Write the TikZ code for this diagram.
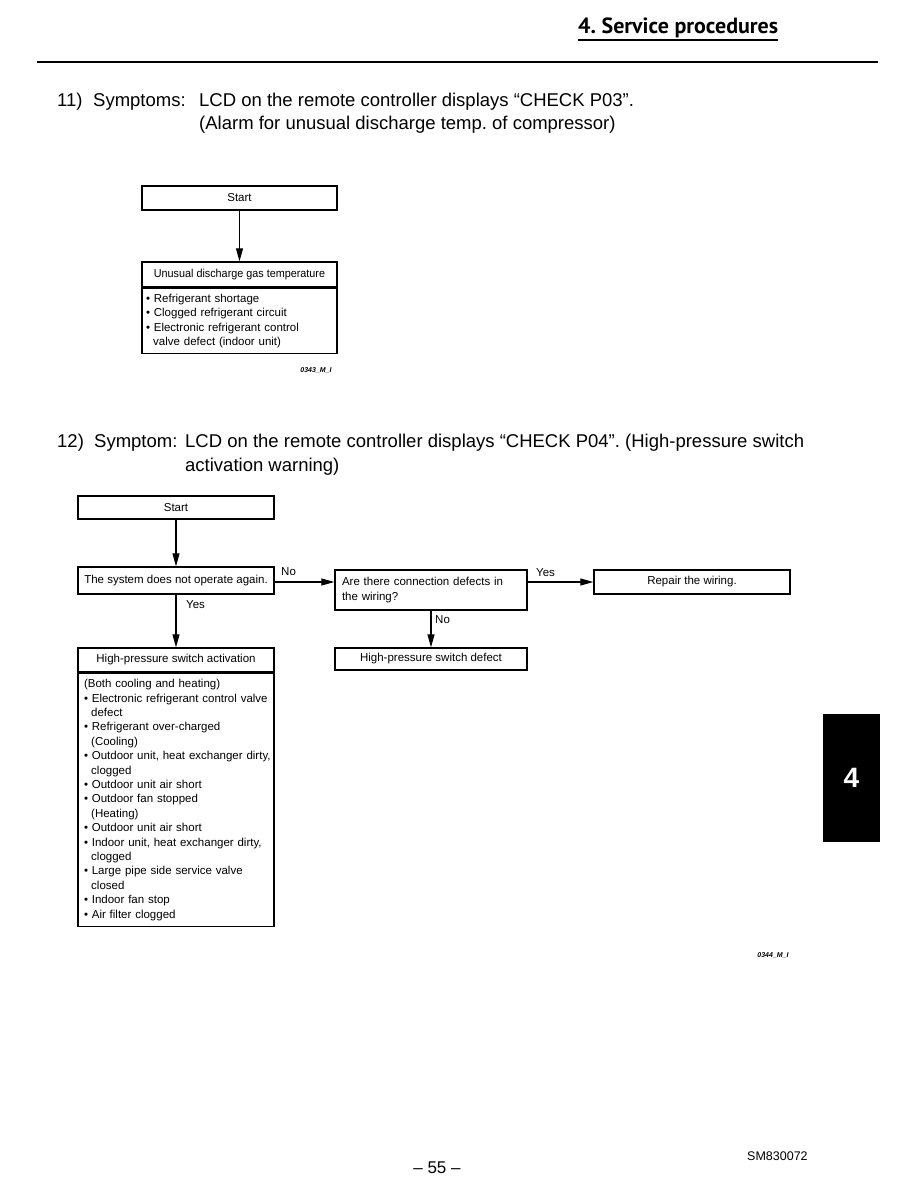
\documentclass[tikz,border=0pt]{standalone}
\usepackage{fontspec}
\usepackage{graphicx}
\setmainfont{Liberation Sans}
\newfontfamily\headfont{PT Sans}
\usetikzlibrary{arrows.meta}
\newcommand{\fsz}[2]{\fontsize{#1}{#2}\selectfont}
\newcommand{\ind}{\hspace*{7.2pt}}
\newcommand{\li}[1]{\mbox{#1}}
\frenchspacing
\begin{document}
\frenchspacing
\begin{tikzpicture}[x=1pt,y=-1pt,
  box/.style={draw, line width=1.4pt, inner sep=0pt, font=\fsz{11.5}{14.4}},
  listbox/.style={draw, line width=1.4pt, inner ysep=0pt, align=left, font=\fsz{11.5}{14.4}},
  arr/.style={line width=1.1pt, -{Triangle[length=13pt,width=7pt]}},
  lbl/.style={font=\fsz{11.5}{14}, inner sep=0pt},
  title/.style={font=\fsz{18.5}{22}, inner sep=0pt, anchor=base west},
  code/.style={font=\bfseries\itshape\fsz{7}{8}, inner sep=0pt}]
\useasboundingbox (0,0) rectangle (918,1188);

% header
\node[font=\headfont\bfseries\fsz{22}{24}, anchor=base west, inner sep=0pt] (hdr) at (578,34) {4. Service procedures};
\draw[line width=1.4pt] ([yshift=-6pt]hdr.base west) -- ([yshift=-6pt]hdr.base east);
\coordinate (rl) at (37,62);
\coordinate (rr) at (878,62);
\draw[line width=1.4pt] (rl) -- (rr);

% title 1
\node[title] (t1n) at (57,107) {11)};
\node[title] (t1s) at (93,107) {Symptoms:};
\node[title] (t1a) at (199,107) {LCD on the remote controller displays “CHECK P03”.};
\node[title] (t1b) at (199,129) {(Alarm for unusual discharge temp. of compressor)};

% chart 1
\node[box, minimum width=195pt, minimum height=24pt] (s1) at (239.5,198) {Start};
\node[box, minimum width=195pt, minimum height=25pt] (h1) at (239.5,274.5) {\scalebox{0.94}[1]{Unusual discharge gas temperature}};
\node[listbox, anchor=north, minimum width=195pt, minimum height=65pt, text width=187pt, inner xsep=4pt] (b1) at (h1.south)
 {\li{• Refrigerant shortage}\\
  \li{• Clogged refrigerant circuit}\\
  \li{• Electronic refrigerant control}\\
  \li{\ind valve defect (indoor unit)}};
\draw[arr] (s1) -- (h1);
\node[code] (c1) at (316,370) {0343\_M\_I};

% title 2
\node[title] (t2n) at (57,447) {12)};
\node[title] (t2s) at (94,447) {Symptom:};
\node[title] (t2a) at (185,447) {LCD on the remote controller displays “CHECK P04”. (High-pressure switch};
\node[title] (t2b) at (185,471) {activation warning)};

% chart 2
\node[box, minimum width=196pt, minimum height=23pt] (s2) at (176,507.5) {Start};
\node[box, minimum width=196pt, minimum height=27pt] (q1) at (176,580.5) {The system does not operate again.};
\node[box, minimum width=192pt, minimum height=40pt, text width=178pt, inner xsep=7pt, align=left] (q2) at (431,590) {Are there connection defects in\\the wiring?};
\node[box, minimum width=196pt, minimum height=24pt] (r1) at (692,582) {Repair the wiring.};
\node[box, minimum width=192pt, minimum height=22pt] (d1) at (431,659) {High-pressure switch defect};
\node[box, minimum width=196pt, minimum height=24pt] (h2) at (176,660) {High-pressure switch activation};
\node[listbox, anchor=north, minimum width=196pt, minimum height=253pt, text width=186pt, inner xsep=5pt] (b2) at (h2.south)
 {\li{\hspace*{1pt}(Both cooling and heating)}\\
  \li{\hspace*{1pt}• Electronic refrigerant control valve}\\
  \li{\hspace*{1pt}\ind defect}\\
  \li{\hspace*{1pt}• Refrigerant over-charged}\\
  \li{\hspace*{1pt}\ind (Cooling)}\\
  \li{\hspace*{1pt}• Outdoor unit, heat exchanger dirty,}\\
  \li{\hspace*{1pt}\ind clogged}\\
  \li{\hspace*{1pt}• Outdoor unit air short}\\
  \li{\hspace*{1pt}• Outdoor fan stopped}\\
  \li{\hspace*{1pt}\ind (Heating)}\\
  \li{\hspace*{1pt}• Outdoor unit air short}\\
  \li{\hspace*{1pt}• Indoor unit, heat exchanger dirty,}\\
  \li{\hspace*{1pt}\ind clogged}\\
  \li{\hspace*{1pt}• Large pipe side service valve}\\
  \li{\hspace*{1pt}\ind closed}\\
  \li{\hspace*{1pt}• Indoor fan stop}\\
  \li{\hspace*{1pt}• Air filter clogged}};

\draw[arr] (s2) -- (q1);
\draw[arr] (q1.south) -- (h2.north);
\draw[arr] ([yshift=-1.5pt]q1.east) -- ([yshift=-1.5pt]q1.east -| q2.west);
\draw[arr] (r1.west -| q2.east) -- (r1.west);
\draw[arr] (q2.south -| d1.north) -- (d1.north);

\node[lbl, anchor=west] (lno1) at (281,572) {No};
\node[lbl, anchor=west] (lyes1) at (186,605) {Yes};
\node[lbl, anchor=west] (lyes2) at (536,573) {Yes};
\node[lbl, anchor=west] (lno2) at (435,620) {No};

\node[code] (c2) at (773,955) {0344\_M\_I};

% side tab
\node[fill=black, minimum width=57pt, minimum height=128pt, inner sep=0pt, text=white, font=\bfseries\fsz{28}{30}] (tab) at (851.5,778) {4};

% footer
\node[font=\fsz{17}{19}, inner sep=0pt] (pg) at (437,1168) {– 55 –};
\node[font=\fsz{12.5}{14}, inner sep=0pt, anchor=west] (sm) at (747,1156) {SM830072};
\end{tikzpicture}
\end{document}
